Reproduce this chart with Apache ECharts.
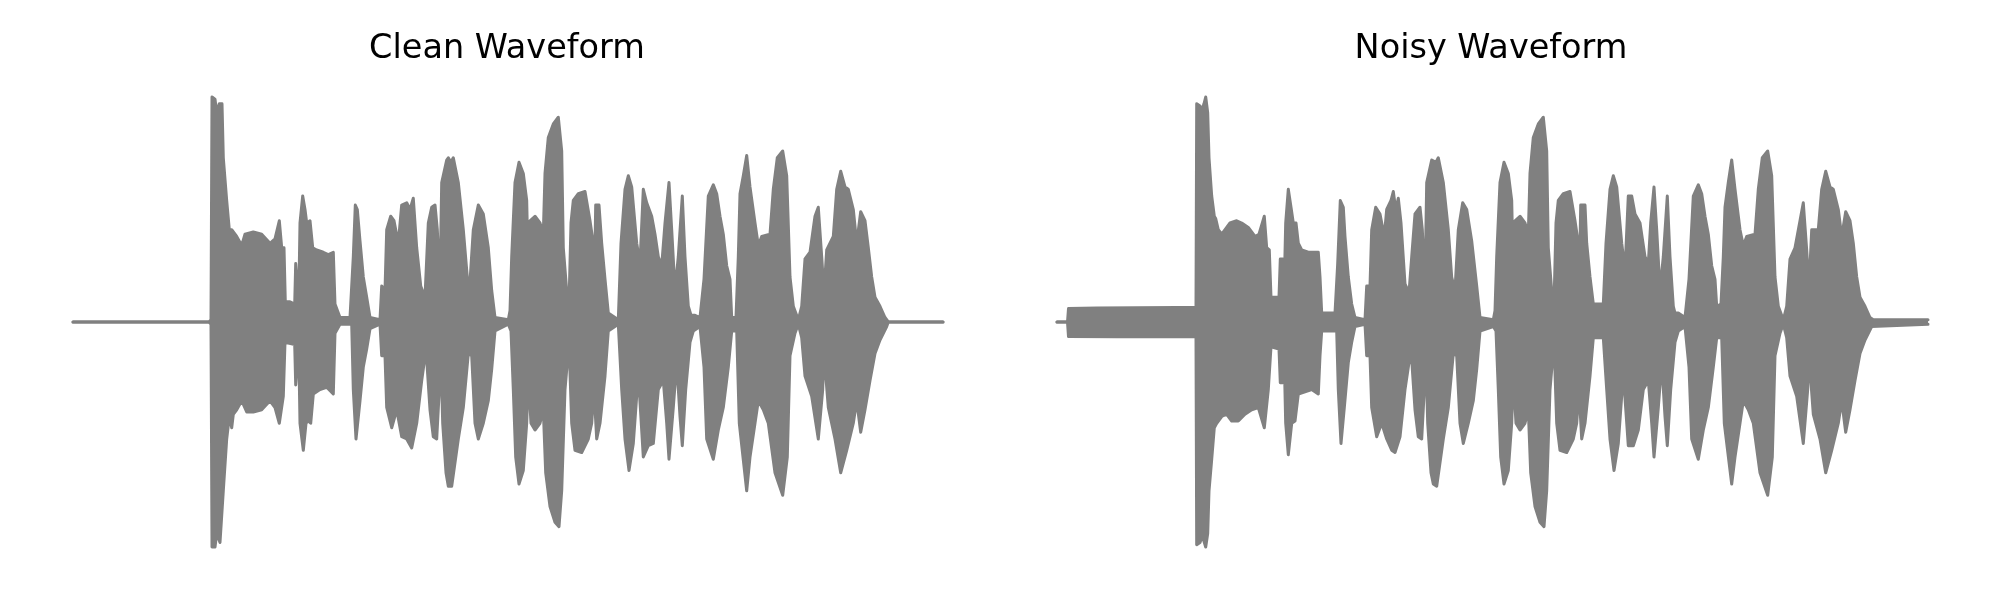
<!DOCTYPE html>
<html>
<head>
<meta charset="utf-8">
<script src="https://cdn.jsdelivr.net/npm/echarts@6/dist/echarts.min.js"></script>
<style>html,body{margin:0;padding:0;background:#fff}#c{width:2000px;height:600px}</style>
</head>
<body>
<div id="c"></div>
<script>
// Titles
const titles = ["Clean Waveform", "Noisy Waveform"];

// Envelope of the clean waveform: [time, amplitude]
const cleanUpper = [[0,0],[136,0],[138,0.01],[139,1.0],[142,0.99],[143.7,0.93],[146.3,0.97],[149,0.97],[150.3,0.73],[153.7,0.54],[156.3,0.41],[158.7,0.41],[163.7,0.38],[168.7,0.34],[172,0.39],[180.3,0.40],[188.7,0.39],[197,0.35],[202,0.37],[206.3,0.45],[208.7,0.33],[211,0.33],[212.3,0.09],[217,0.09],[221.7,0.08],[222.7,0.26],[224.7,0.26],[225.7,0.08],[227,0.44],[229.7,0.56],[232,0.50],[233.7,0.44],[237,0.45],[239.7,0.33],[243.7,0.32],[250.3,0.31],[255.3,0.30],[260.3,0.31],[262,0.08],[267,0.02],[277,0.02],[280.3,0.29],[282.3,0.52],[284.3,0.50],[287,0.36],[290.3,0.20],[293.7,0.11],[297,0.02],[307,0.01],[308.7,0.16],[312,0.14],[313.7,0.41],[317.7,0.47],[321,0.45],[325.3,0.35],[328.7,0.52],[333.7,0.53],[337,0.50],[340.3,0.55],[343.7,0.33],[347.7,0.16],[352,0.11],[355.3,0.44],[358.7,0.51],[362,0.52],[364.3,0.41],[367,0.16],[368.7,0.62],[373.7,0.72],[375.3,0.73],[378,0.71],[380.3,0.73],[385.3,0.62],[390.3,0.41],[393.7,0.23],[396,0.11],[400.3,0.41],[405.3,0.52],[410.3,0.48],[415.3,0.33],[418.7,0.14],[422,0.02],[435.3,0.01],[437,0.05],[438.7,0.29],[442,0.62],[446,0.71],[450.3,0.66],[453.7,0.54],[455.3,0.20],[457,0.45],[462,0.47],[467,0.44],[470.3,0.39],[472,0.66],[475.3,0.82],[480.3,0.88],[485.3,0.91],[488.7,0.76],[490.3,0.33],[493.7,0.14],[496,0.08],[498,0.44],[500.3,0.54],[505.3,0.57],[512,0.58],[517,0.45],[519.3,0.38],[521.3,0.14],[522.7,0.52],[526,0.52],[528.7,0.35],[532,0.19],[535.3,0.04],[545.3,0.01],[548,0.35],[552,0.59],[555.3,0.65],[558.7,0.60],[563.7,0.35],[567,0.26],[570.3,0.59],[573.7,0.53],[578.7,0.47],[582,0.39],[585.3,0.29],[588.7,0.25],[592,0.44],[596,0.62],[598.7,0.41],[602,0.14],[605.3,0.29],[609.3,0.56],[612,0.29],[615.3,0.07],[618,0.03],[622,0.03],[627,0.02],[631,0.19],[635.3,0.56],[640.3,0.61],[643.7,0.57],[647,0.47],[650.3,0.39],[653.7,0.25],[657,0.19],[658.7,0.02],[663,0.02],[665.3,0.29],[667,0.57],[670.3,0.65],[673.7,0.74],[677,0.60],[682,0.44],[685.3,0.34],[688.7,0.38],[697,0.39],[700.3,0.59],[704.3,0.73],[709.7,0.76],[713.7,0.65],[717,0.20],[720.3,0.07],[725.3,0.01],[728.7,0.07],[732,0.28],[737,0.31],[742,0.47],[745.3,0.51],[748.7,0.29],[751,0.13],[753.7,0.32],[760.3,0.38],[763.7,0.59],[767.7,0.67],[772,0.60],[775.3,0.59],[780.3,0.50],[783.7,0.35],[787.7,0.49],[792,0.45],[795.3,0.33],[798.7,0.20],[802,0.11],[807,0.07],[812,0.02],[815.3,0],[870,0]];

const cleanLower = [[0,0],[136,0],[138,-0.01],[139,-1.0],[142,-1.0],[143.7,-0.94],[147,-0.98],[149,-0.98],[150.3,-0.75],[153.7,-0.52],[156.3,-0.42],[158.7,-0.47],[160.3,-0.41],[163.7,-0.39],[168.7,-0.35],[173.7,-0.40],[180.3,-0.40],[188.7,-0.39],[197,-0.35],[202,-0.38],[206.3,-0.45],[210.3,-0.33],[212,-0.09],[221.7,-0.10],[222.7,-0.28],[224.7,-0.28],[225.7,-0.10],[227,-0.45],[230.3,-0.57],[233,-0.45],[235.3,-0.44],[237.7,-0.45],[240.3,-0.32],[247,-0.30],[253.7,-0.29],[260.3,-0.32],[262,-0.05],[267,-0.01],[278.7,-0.01],[280.3,-0.30],[283,-0.52],[287,-0.35],[290.3,-0.20],[293.7,-0.12],[297,-0.03],[307,-0.01],[308.7,-0.15],[312,-0.15],[313.7,-0.38],[318.7,-0.47],[323.7,-0.39],[328.7,-0.51],[333.7,-0.52],[338.7,-0.56],[343.7,-0.45],[348.7,-0.26],[353,-0.12],[357,-0.39],[360.3,-0.51],[363.7,-0.52],[366.3,-0.30],[367.7,-0.12],[369.7,-0.45],[373,-0.67],[375.3,-0.73],[378.7,-0.73],[385.3,-0.52],[390.3,-0.38],[395.3,-0.14],[398.7,-0.15],[402,-0.45],[405.3,-0.52],[410.3,-0.45],[415.3,-0.35],[418.7,-0.21],[422,-0.04],[435.3,-0.01],[438,-0.04],[440.3,-0.30],[442.7,-0.60],[446,-0.72],[450.3,-0.66],[453.7,-0.45],[455.3,-0.24],[458,-0.45],[462,-0.48],[467,-0.45],[470.3,-0.39],[472.7,-0.67],[477,-0.82],[482,-0.89],[486,-0.91],[488.7,-0.75],[492,-0.30],[496,-0.09],[498.7,-0.45],[502,-0.57],[508.7,-0.58],[515.3,-0.52],[518.7,-0.45],[521,-0.30],[523.7,-0.52],[527,-0.45],[532,-0.24],[535.3,-0.04],[545.3,-0.01],[548.7,-0.30],[552,-0.52],[556,-0.66],[560.3,-0.54],[565.3,-0.23],[570.3,-0.60],[575.3,-0.55],[580.3,-0.54],[585.3,-0.30],[590.3,-0.26],[593.7,-0.45],[596,-0.61],[600.3,-0.38],[603.7,-0.18],[607,-0.42],[609.3,-0.55],[612.7,-0.30],[617,-0.09],[620.3,-0.04],[627,-0.02],[631,-0.20],[633.7,-0.52],[640.3,-0.61],[645.3,-0.48],[650.3,-0.38],[655.3,-0.20],[658.7,-0.04],[663.7,-0.04],[666.3,-0.45],[673.7,-0.75],[677,-0.60],[682,-0.45],[685.3,-0.35],[690.3,-0.39],[695.3,-0.45],[702,-0.67],[709.7,-0.77],[714.3,-0.60],[717,-0.15],[722,-0.05],[725.3,-0.01],[728.7,-0.07],[732,-0.24],[738.7,-0.33],[745.3,-0.52],[749.7,-0.30],[751,-0.14],[755.3,-0.38],[762,-0.52],[767.7,-0.67],[773.7,-0.57],[780.3,-0.45],[783.7,-0.35],[787.7,-0.49],[792,-0.39],[797,-0.26],[802,-0.14],[807,-0.08],[813.7,-0.02],[815.3,0],[870,0]];

// Envelope of the noisy waveform: [time, amplitude]
const noisyUpper = [[0,0],[10.5,0],[11.5,0.06],[40,0.062],[80,0.063],[120,0.064],[139,0.065],[139.7,0.97],[143,0.96],[144.7,0.94],[147,0.97],[148.7,1.0],[150.7,0.93],[152,0.73],[154.7,0.56],[157.3,0.47],[158.7,0.46],[161.3,0.41],[164.7,0.39],[169.7,0.42],[173,0.44],[179.7,0.45],[184.7,0.44],[191.3,0.42],[198,0.38],[202,0.39],[207.3,0.47],[209.7,0.33],[212.3,0.32],[214,0.11],[222,0.11],[223.3,0.28],[225.7,0.28],[227,0.11],[228.7,0.44],[231.3,0.59],[234,0.51],[236.3,0.44],[239,0.44],[241.3,0.35],[244.7,0.32],[251.3,0.31],[261.3,0.31],[263,0.20],[264.7,0.04],[278,0.04],[280.7,0.26],[283.3,0.54],[286.3,0.51],[288,0.38],[291.3,0.20],[294.7,0.08],[298,0.02],[308,0.01],[309.7,0.16],[313,0.16],[314.7,0.41],[318.7,0.51],[323,0.48],[327.3,0.38],[329.7,0.50],[334,0.54],[336.3,0.58],[338.7,0.50],[341.3,0.55],[344,0.44],[348,0.17],[352,0.13],[354.7,0.29],[358,0.48],[363,0.51],[365.3,0.41],[368,0.16],[369.7,0.62],[374.7,0.72],[376.3,0.72],[379,0.71],[381.3,0.73],[386.3,0.62],[391.3,0.41],[394.7,0.20],[398,0.14],[401.3,0.41],[405.7,0.53],[409.7,0.50],[414.7,0.36],[419.7,0.16],[423,0.02],[436.3,0.01],[438,0.05],[439.7,0.29],[443,0.62],[447,0.71],[451.3,0.66],[454.7,0.54],[456.3,0.20],[458,0.45],[463,0.47],[468,0.44],[471.3,0.39],[473,0.66],[476.3,0.82],[481.3,0.88],[486.3,0.91],[489.7,0.76],[491.3,0.33],[494.7,0.14],[497,0.08],[499,0.44],[501.3,0.54],[506.3,0.57],[513,0.58],[518,0.45],[520.3,0.38],[522.3,0.14],[523.7,0.52],[528,0.52],[529.7,0.35],[533,0.20],[536.3,0.08],[546.3,0.08],[549,0.35],[553,0.59],[556.3,0.65],[559.7,0.60],[564.7,0.35],[568,0.23],[571.3,0.56],[574.7,0.56],[578,0.48],[583,0.44],[588,0.29],[591.3,0.26],[593.7,0.44],[597,0.60],[599.7,0.41],[603,0.14],[606.3,0.29],[610.3,0.56],[613,0.29],[616.3,0.07],[618,0.04],[621.3,0.04],[628,0.02],[632,0.19],[636.3,0.56],[641.3,0.61],[644.7,0.57],[648,0.47],[651.3,0.39],[654.7,0.25],[658,0.19],[659.7,0.07],[664,0.08],[666.3,0.29],[668,0.51],[671.3,0.62],[674.7,0.72],[678,0.59],[683,0.41],[686.3,0.34],[689.7,0.38],[698,0.39],[701.3,0.59],[705.3,0.73],[710.7,0.76],[714.7,0.65],[718,0.20],[721.3,0.07],[726.3,0.01],[729.7,0.07],[733,0.28],[738,0.33],[743,0.45],[746.3,0.53],[749.7,0.32],[752,0.15],[754.7,0.41],[761.3,0.41],[764.7,0.59],[768.7,0.67],[773,0.60],[776.3,0.59],[781.3,0.50],[784.7,0.38],[788.7,0.49],[793,0.45],[796.3,0.35],[799.7,0.20],[803,0.11],[808,0.07],[813,0.02],[816.3,0.01],[871,0.01]];

const noisyLower = [[0,0],[10.5,0],[11.5,-0.065],[60,-0.066],[100,-0.064],[139,-0.066],[139.7,-0.99],[143,-0.98],[145.3,-0.95],[148.7,-1.0],[150.7,-0.94],[152,-0.75],[154.7,-0.61],[157.3,-0.47],[159.7,-0.45],[164.7,-0.42],[169.7,-0.41],[174.7,-0.44],[181.3,-0.44],[188,-0.41],[194.7,-0.39],[201.3,-0.38],[207.3,-0.47],[211.3,-0.30],[214,-0.11],[222,-0.12],[223.3,-0.27],[225.7,-0.27],[227,-0.11],[228.7,-0.45],[231.3,-0.59],[234.7,-0.45],[238,-0.44],[241.3,-0.32],[248,-0.31],[254.7,-0.30],[261.3,-0.32],[263,-0.15],[264.7,-0.04],[279.7,-0.04],[281.3,-0.30],[284,-0.54],[287.3,-0.38],[291.3,-0.18],[294.7,-0.09],[298,-0.02],[308,-0.01],[309.7,-0.15],[313,-0.15],[314.7,-0.38],[319.7,-0.51],[324.7,-0.45],[329.7,-0.52],[334.7,-0.57],[338,-0.58],[343,-0.51],[348,-0.30],[354,-0.12],[358,-0.39],[361.3,-0.51],[364.7,-0.52],[367.3,-0.30],[368.7,-0.12],[370.7,-0.45],[374,-0.67],[376.3,-0.72],[379.7,-0.73],[386.3,-0.52],[391.3,-0.38],[396.3,-0.14],[399.7,-0.15],[403,-0.45],[406.3,-0.54],[411.3,-0.45],[416.3,-0.35],[419.7,-0.21],[423,-0.04],[436.3,-0.02],[439,-0.04],[441.3,-0.30],[443.7,-0.60],[447,-0.72],[451.3,-0.66],[454.7,-0.45],[456.3,-0.24],[459,-0.45],[463,-0.48],[468,-0.45],[471.3,-0.39],[473.7,-0.67],[478,-0.82],[483,-0.89],[487,-0.91],[489.7,-0.75],[493,-0.30],[497,-0.09],[499.7,-0.45],[503,-0.57],[509.7,-0.58],[516.3,-0.52],[519.7,-0.45],[522,-0.30],[524.7,-0.52],[528,-0.45],[533,-0.24],[536.3,-0.07],[546.3,-0.07],[549.7,-0.30],[553,-0.52],[557,-0.66],[561.3,-0.54],[566.3,-0.23],[571.3,-0.55],[576.3,-0.55],[581.3,-0.48],[586.3,-0.30],[591.3,-0.26],[594.7,-0.45],[597,-0.60],[601.3,-0.38],[604.7,-0.18],[608,-0.42],[610.3,-0.55],[613.7,-0.30],[618,-0.09],[621.3,-0.04],[628,-0.02],[632,-0.20],[634.7,-0.52],[641.3,-0.61],[646.3,-0.48],[651.3,-0.38],[656.3,-0.20],[659.7,-0.07],[664.7,-0.07],[667.3,-0.45],[674.7,-0.72],[678,-0.60],[683,-0.45],[686.3,-0.35],[691.3,-0.39],[696.3,-0.45],[703,-0.67],[710.7,-0.77],[715.3,-0.60],[718,-0.15],[723,-0.05],[726.3,-0.01],[729.7,-0.07],[733,-0.24],[739.7,-0.33],[746.3,-0.54],[750.7,-0.30],[752,-0.15],[756.3,-0.41],[763,-0.52],[768.7,-0.67],[774.7,-0.57],[781.3,-0.45],[784.7,-0.35],[788.7,-0.49],[793,-0.39],[798,-0.26],[803,-0.14],[808,-0.08],[814.7,-0.02],[871,-0.01]];

const GRAY = '#808080';
const chart = echarts.init(document.getElementById('c'), null, {renderer: 'canvas'});

function env(data, idx) {
  return {
    type: 'line', data: data, xAxisIndex: idx, yAxisIndex: idx,
    symbol: 'none', smooth: false, silent: true,
    lineStyle: {color: GRAY, width: 3, join: 'round', cap: 'round'},
    areaStyle: {color: GRAY, opacity: 1, origin: 0}
  };
}

const yTop = 1.05, yBot = -1.05;
const center = 322, scale = 225;
const gridTop = center - yTop * scale;
const gridH = (yTop - yBot) * scale;

const titleStyle = {fontFamily: 'DejaVu Sans', fontSize: 33.5, fontWeight: 'normal', color: '#000'};

chart.setOption({
  animation: false,
  backgroundColor: '#ffffff',
  title: [
    {text: titles[0], left: 502, top: 27, textAlign: 'center', textStyle: titleStyle},
    {text: titles[1], left: 1486, top: 27, textAlign: 'center', textStyle: titleStyle}
  ],
  grid: [
    {left: 73, width: 870, top: gridTop, height: gridH},
    {left: 1057, width: 871, top: gridTop, height: gridH}
  ],
  xAxis: [
    {type: 'value', gridIndex: 0, min: 0, max: 870, show: false},
    {type: 'value', gridIndex: 1, min: 0, max: 871, show: false}
  ],
  yAxis: [
    {type: 'value', gridIndex: 0, min: yBot, max: yTop, show: false},
    {type: 'value', gridIndex: 1, min: yBot, max: yTop, show: false}
  ],
  series: [
    env(cleanUpper, 0), env(cleanLower, 0),
    env(noisyUpper, 1), env(noisyLower, 1)
  ]
});
</script>
</body>
</html>
